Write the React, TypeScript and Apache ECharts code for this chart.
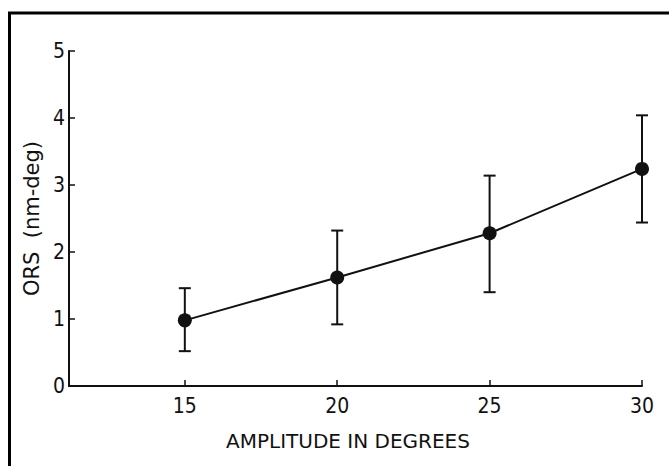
import React, { useEffect, useRef } from "react";
import * as echarts from "echarts";

const amplitudes = [15, 20, 25, 30];
const orsMeans = [0.98, 1.62, 2.28, 3.24];
const orsLower = [0.52, 0.92, 1.4, 2.44];
const orsUpper = [1.46, 2.32, 3.14, 4.04];
const xTicks = [15, 20, 25, 30];
const yTicks = [0, 1, 2, 3, 4, 5];

const FONT = "DejaVu Sans";
const NUM_FONT = "'Liberation Sans Narrow', 'DejaVu Sans Condensed', 'DejaVu Sans'";

export default function App() {
  const ref = useRef<HTMLDivElement>(null);
  useEffect(() => {
    if (!ref.current) return;
    const chart = echarts.init(ref.current, null, { renderer: "svg" });
    const meanData = amplitudes.map((a, i) => [a, orsMeans[i]]);
    const errData = amplitudes.map((a, i) => [a, orsLower[i], orsUpper[i]]);
    chart.setOption({
      animation: false,
      backgroundColor: "#ffffff",
      grid: { left: 69, right: 27, top: 51, bottom: 80, containLabel: false },
      xAxis: {
        type: "value",
        min: 11.2,
        max: 30,
        name: "AMPLITUDE IN DEGREES",
        nameLocation: "middle",
        nameGap: 45,
        nameTextStyle: { fontFamily: FONT, fontSize: 20, color: "#111", padding: [0, 15, 0, 0] },
        axisLine: { show: true, lineStyle: { color: "#111", width: 2 } },
        axisTick: { show: true, inside: true, length: 6, customValues: xTicks, lineStyle: { color: "#111", width: 1.5 } },
        axisLabel: { customValues: xTicks, fontFamily: NUM_FONT, fontSize: 21, color: "#111", margin: 9 },
        splitLine: { show: false },
      },
      yAxis: {
        type: "value",
        min: 0,
        max: 5,
        interval: 1,
        name: "ORS  (nm-deg)",
        nameLocation: "middle",
        nameRotate: 90,
        nameGap: 27,
        nameTextStyle: { fontFamily: FONT, fontSize: 21, color: "#111" },
        axisLine: { show: true, lineStyle: { color: "#111", width: 2 } },
        axisTick: { show: true, inside: true, length: 6, customValues: yTicks, lineStyle: { color: "#111", width: 1.5 } },
        axisLabel: { fontFamily: NUM_FONT, fontSize: 21, color: "#111", margin: 4 },
        splitLine: { show: false },
      },
      graphic: [
        { type: "line", shape: { x1: 8, y1: 13, x2: 669, y2: 13 }, style: { stroke: "#000", lineWidth: 3 } },
        { type: "line", shape: { x1: 9.5, y1: 12, x2: 9.5, y2: 466 }, style: { stroke: "#000", lineWidth: 3 } },
      ],
      series: [
        {
          type: "custom",
          data: errData,
          renderItem: (params: any, api: any) => {
            const x = api.value(0);
            const lo = api.coord([x, api.value(1)]);
            const hi = api.coord([x, api.value(2)]);
            const w = 6;
            const st = { stroke: "#111", lineWidth: 2 };
            return {
              type: "group",
              children: [
                { type: "line", shape: { x1: lo[0], y1: lo[1], x2: hi[0], y2: hi[1] }, style: st },
                { type: "line", shape: { x1: lo[0] - w, y1: lo[1], x2: lo[0] + w, y2: lo[1] }, style: st },
                { type: "line", shape: { x1: hi[0] - w, y1: hi[1], x2: hi[0] + w, y2: hi[1] }, style: st },
              ],
            };
          },
          z: 1,
        },
        {
          type: "line",
          data: meanData,
          symbol: "circle",
          symbolSize: 14,
          lineStyle: { color: "#111", width: 2 },
          itemStyle: { color: "#111" },
          z: 2,
        },
      ],
    });
    return () => chart.dispose();
  }, []);
  return <div ref={ref} style={{ width: 669, height: 466, position: "absolute", left: 0, top: 0 }} />;
}
